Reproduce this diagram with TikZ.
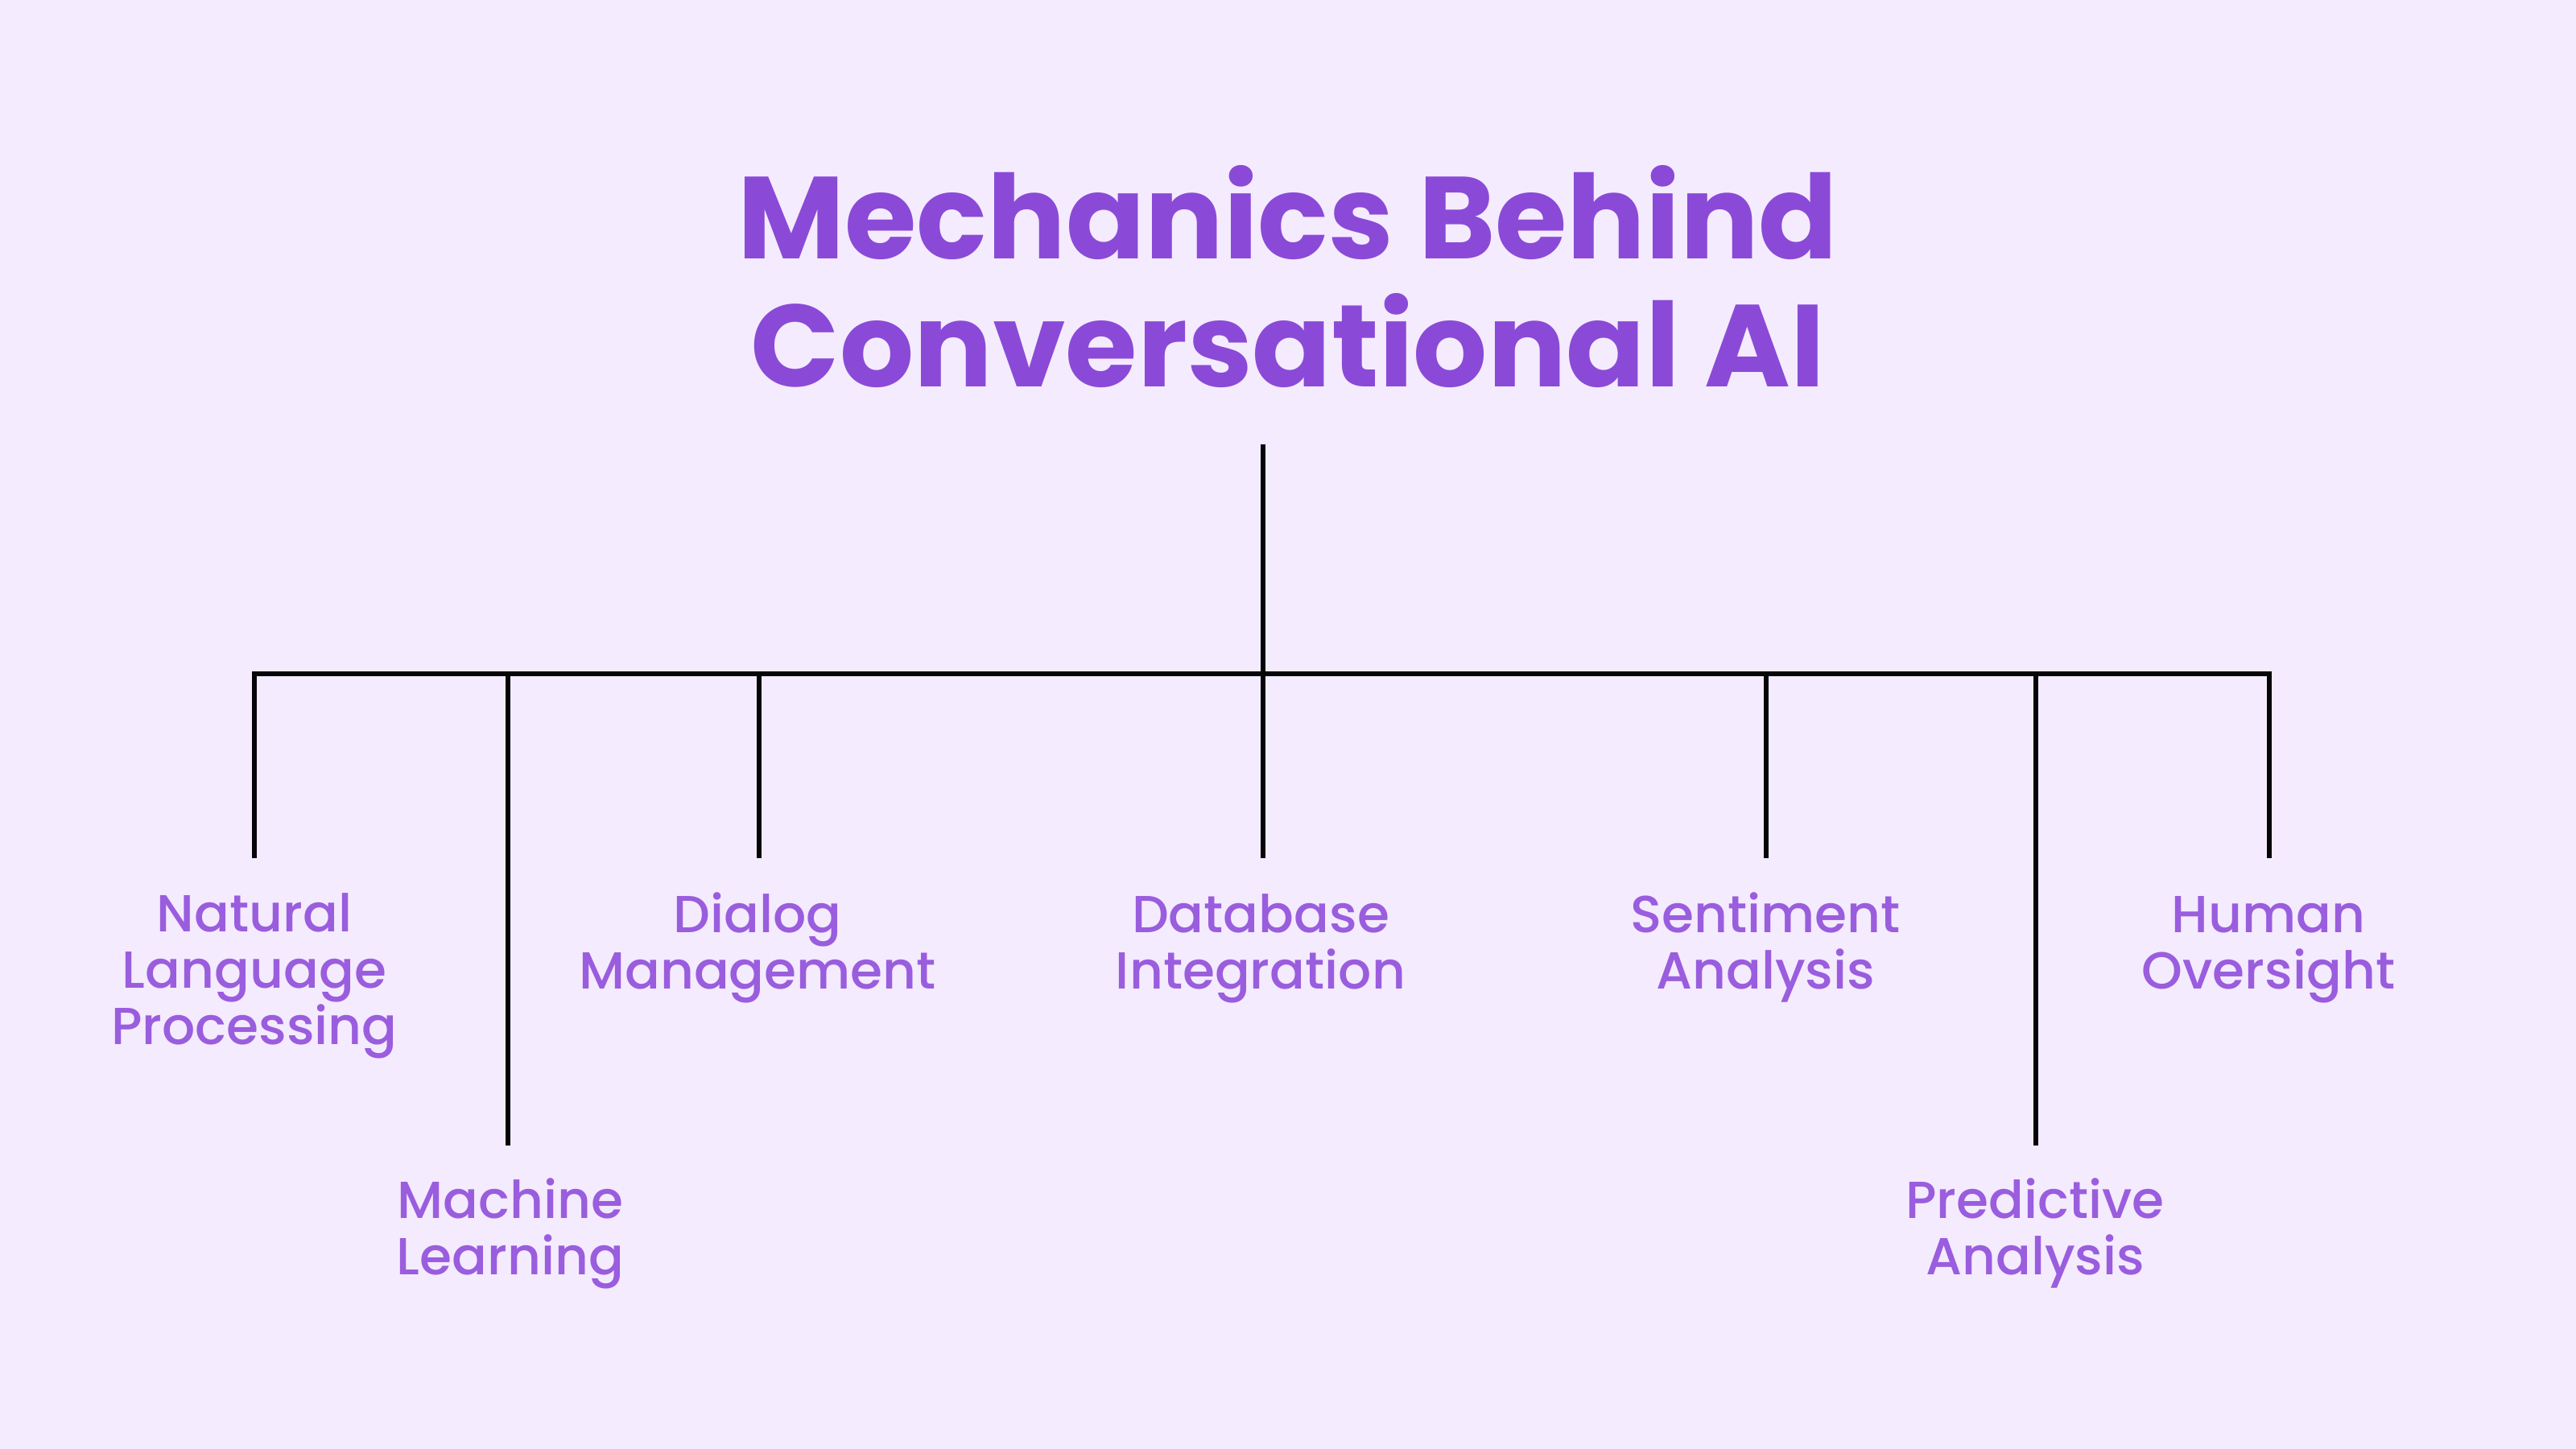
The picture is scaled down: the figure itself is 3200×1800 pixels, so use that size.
\documentclass[tikz,border=0pt]{standalone}
\usepackage{fontspec}
\setmainfont{Poppins}
\IfFontExistsTF{Poppins Medium}{\newfontfamily\leaffont{Poppins Medium}}{\newfontfamily\leaffont{Poppins}[FakeBold=1.5]}
\definecolor{bgc}{HTML}{F4EBFE}
\definecolor{titlec}{HTML}{8A4AD7}
\definecolor{labelc}{HTML}{9A5DDE}
\definecolor{linec}{HTML}{050508}
\tikzset{
  px/.style={x=0.01cm,y=-0.01cm},
  titletext/.style={text=titlec,font=\fontsize{41.2}{45}\selectfont\bfseries,align=center,anchor=base,inner sep=0pt},
  leaf/.style={text=labelc,font=\leaffont\fontsize{18.4}{19.9}\selectfont,align=center,anchor=base,inner sep=0pt},
  wire/.style={draw=linec,line width=1.71pt,line join=miter}
}
\begin{document}
\begin{tikzpicture}[px]
\fill[bgc] (0,0) rectangle (3200,1800);
\useasboundingbox (0,0) rectangle (3200,1800);
% anchor=base sits on the last line's baseline
\node[titletext] (title) at (1600,480) {Mechanics Behind\\Conversational AI};
\coordinate (top) at (1569,552);
\coordinate (hub) at (1569,837);
% leaf labels
\node[leaf] (nlp) at (316,1297) {Natural\\Language\\Processing};
\node[leaf] (ml)  at (634,1583) {Machine\\Learning};
\node[leaf] (dm)  at (941,1228) {Dialog\\Management};
\node[leaf] (db)  at (1566,1228) {Database\\Integration};
\node[leaf] (sa)  at (2193,1228) {Sentiment\\Analysis};
\node[leaf] (pa)  at (2528,1583) {Predictive\\Analysis};
\node[leaf] (ho)  at (2818,1228) {Human\\Oversight};
% drop ends
\coordinate (enlp) at (316,1066);
\coordinate (eml)  at (631,1423);
\coordinate (edm)  at (943,1066);
\coordinate (edb)  at (1569,1066);
\coordinate (esa)  at (2194,1066);
\coordinate (epa)  at (2529,1423);
\coordinate (eho)  at (2819,1066);
% connectors
\draw[wire] (top) -- (hub);
\draw[wire] (enlp) -- (enlp |- hub) -- (eho |- hub) -- (eho);
\foreach \e in {eml,edm,edb,esa,epa} \draw[wire] (\e |- hub) -- (\e);
\end{tikzpicture}
\end{document}
